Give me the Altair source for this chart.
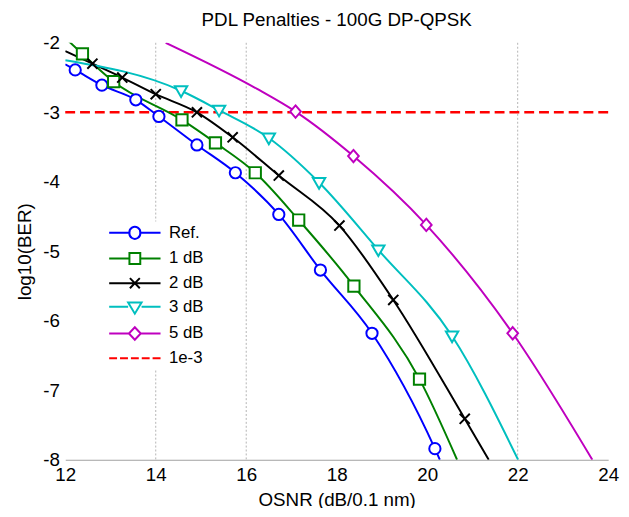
import altair as alt
import pandas as pd

# ---------------- data ----------------
SERIES = ["Ref.", "1 dB", "2 dB", "3 dB", "5 dB"]
COLORS = ["#0000ff", "#008000", "#000000", "#00bfbf", "#bf00bf"]
THRESH_NAME = "1e-3"
THRESH_COLOR = "#ff0000"
THRESHOLD = [-3]

X_TICKS = [12, 14, 16, 18, 20, 22, 24]
Y_TICKS = [-2, -3, -4, -5, -6, -7, -8]
GRID_X = [14, 16, 22]

# curve points (OSNR, log10 BER)
REF_LX = [12.0, 12.22, 12.81, 13.56, 14.07, 14.91, 15.76, 16.72, 17.64, 18.78, 20.17, 20.28]
REF_LY = [-2.31, -2.39, -2.61, -2.82, -3.06, -3.47, -3.87, -4.47, -5.27, -6.18, -7.84, -8.0]
DB1_LX = [12.0, 12.38, 13.07, 14.58, 15.32, 16.20, 17.16, 18.38, 19.83, 20.66]
DB1_LY = [-1.93, -2.16, -2.56, -3.11, -3.44, -3.87, -4.55, -5.50, -6.84, -8.0]
DB2_LX = [12.0, 12.60, 13.26, 14.00, 14.91, 15.70, 16.72, 18.06, 19.25, 20.83, 21.36]
DB2_LY = [-2.12, -2.30, -2.50, -2.74, -3.00, -3.36, -3.91, -4.63, -5.70, -7.41, -8.0]
DB3_LX = [12.0, 14.56, 15.40, 16.50, 17.61, 18.92, 20.55, 22.01]
DB3_LY = [-2.25, -2.69, -2.97, -3.37, -4.01, -4.98, -6.22, -8.0]
DB5_LX = [14.22, 16.23, 17.09, 18.37, 19.98, 21.89, 23.65]
DB5_LY = [-2.0, -2.66, -2.99, -3.63, -4.62, -6.18, -8.0]

# marker points
REF_MX = [12.22, 12.81, 13.56, 14.07, 14.91, 15.76, 16.72, 17.64, 18.78, 20.17]
REF_MY = [-2.39, -2.61, -2.82, -3.06, -3.47, -3.87, -4.47, -5.27, -6.18, -7.84]
DB1_MX = [12.38, 13.07, 14.58, 15.32, 16.20, 17.16, 18.38, 19.83]
DB1_MY = [-2.16, -2.56, -3.11, -3.44, -3.87, -4.55, -5.50, -6.84]
DB2_MX = [12.60, 13.26, 14.00, 14.91, 15.70, 16.72, 18.06, 19.25, 20.83]
DB2_MY = [-2.30, -2.50, -2.74, -3.00, -3.36, -3.91, -4.63, -5.70, -7.41]
DB3_MX = [14.56, 15.40, 16.50, 17.61, 18.92, 20.55]
DB3_MY = [-2.69, -2.97, -3.37, -4.01, -4.98, -6.22]
DB5_MX = [17.09, 18.37, 19.98, 21.89]
DB5_MY = [-2.99, -3.63, -4.62, -6.18]

# ---------------- tables ----------------
line_sets = [(REF_LX, REF_LY), (DB1_LX, DB1_LY), (DB2_LX, DB2_LY), (DB3_LX, DB3_LY), (DB5_LX, DB5_LY)]
mark_sets = [(REF_MX, REF_MY), (DB1_MX, DB1_MY), (DB2_MX, DB2_MY), (DB3_MX, DB3_MY), (DB5_MX, DB5_MY)]

line_rows, mark_rows = [], []
for name, (xs, ys) in zip(SERIES, line_sets):
    for i, (x, y) in enumerate(zip(xs, ys)):
        line_rows.append({"series": name, "x": x, "y": y, "i": i})
for name, (xs, ys) in zip(SERIES, mark_sets):
    for x, y in zip(xs, ys):
        mark_rows.append({"series": name, "x": x, "y": y})
lines_df = pd.DataFrame(line_rows)
marks_df = pd.DataFrame(mark_rows)
grid_df = pd.DataFrame({"x": GRID_X})
thr_df = pd.DataFrame({"y": THRESHOLD})
leg_names = SERIES + [THRESH_NAME]
leg_df = pd.DataFrame({"series": leg_names})

FONT = "Liberation Sans"

# marker shapes for the plot
MARKER_SHAPES = [
    "circle",
    "square",
    "M-0.9,-0.9L0.9,0.9M-0.9,0.9L0.9,-0.9",
    "M-1.1,-0.8H1.1L0,1.1Z",
    "M0,-1.1L0.95,0L0,1.1L-0.95,0Z",
]
# legend symbols: line segment plus marker (units of 6 px)
LEG_SHAPES = [
    "M-1,0H2.42M4.25,0H7.67M2.42,0A0.92,0.92,0,1,1,4.25,0A0.92,0.92,0,1,1,2.42,0Z",
    "M-1,0H2.42M4.25,0H7.67M2.42,-0.92H4.25V0.92H2.42Z",
    "M-1,0H7.67M2.5,-0.85L4.17,0.85M2.5,0.85L4.17,-0.85",
    "M-1,0H2.2M4.47,0H7.67M2.2,-0.75H4.47L3.33,1.15Z",
    "M-1,0H2.33M4.33,0H7.67M3.33,-1.05L4.33,0L3.33,1.05L2.33,0Z",
    "M-1,0H0.33M0.83,0H2.17M2.67,0H4M4.5,0H5.83M6.33,0H7.67",
]

x_scale = alt.Scale(domain=[12, 24], nice=False, zero=False)
y_scale = alt.Scale(domain=[-8, -2], nice=False, zero=False)

x_enc = alt.X("x:Q", scale=x_scale, axis=alt.Axis(
    values=X_TICKS, title="OSNR (dB/0.1 nm)", grid=False, ticks=False,
    domainColor="#a0a0a0", domainWidth=1, labelFontSize=19, labelFont=FONT,
    labelColor="#000000", labelPadding=6, titleFont=FONT, titleFontSize=19,
    titleFontWeight="normal", titleColor="#000000", titlePadding=6,
    labelFlush=False))
y_enc = alt.Y("y:Q", scale=y_scale, axis=alt.Axis(
    values=Y_TICKS, title="log10(BER)", grid=False, ticks=False, domain=False,
    labelFontSize=19, labelFont=FONT, labelColor="#000000", labelPadding=6,
    labelExpr="toString(datum.value)", titleFont=FONT, titleFontSize=19,
    titleFontWeight="normal", titleColor="#000000", titlePadding=8,
    labelFlush=False))

grid = alt.Chart(grid_df).mark_rule(color="#b4b4b4", strokeDash=[2, 2], strokeWidth=1).encode(
    x=alt.X("x:Q", scale=x_scale))

thr = alt.Chart(thr_df).mark_rule(color=THRESH_COLOR, strokeDash=[10, 5], strokeWidth=2.5).encode(
    y=alt.Y("y:Q", scale=y_scale))

lines = alt.Chart(lines_df).mark_line(strokeWidth=2, interpolate="monotone", clip=True).encode(
    x=x_enc, y=y_enc,
    stroke=alt.Stroke("series:N", scale=alt.Scale(domain=SERIES, range=COLORS), legend=None),
    order=alt.Order("i:Q"))

markers = alt.Chart(marks_df).mark_point(size=130, strokeWidth=2, fill="white", fillOpacity=1, opacity=1).encode(
    x=alt.X("x:Q", scale=x_scale), y=alt.Y("y:Q", scale=y_scale),
    stroke=alt.Stroke("series:N", scale=alt.Scale(domain=SERIES, range=COLORS), legend=None),
    shape=alt.Shape("series:N", scale=alt.Scale(domain=SERIES, range=MARKER_SHAPES), legend=None))

LEG = alt.Legend(orient="none", legendX=39, legendY=181, title=None, fillColor="white",
                 padding=3, symbolSize=144, symbolStrokeWidth=2, symbolOpacity=1,
                 labelFont=FONT, labelFontSize=17, labelColor="#000000", labelOffset=46,
                 rowPadding=5, labelLimit=300)

legend_layer = alt.Chart(leg_df).mark_point(opacity=0, strokeWidth=2).encode(
    color=alt.Color("series:N", scale=alt.Scale(domain=leg_names, range=COLORS + [THRESH_COLOR]), legend=LEG),
    shape=alt.Shape("series:N", scale=alt.Scale(domain=leg_names, range=LEG_SHAPES), legend=LEG))

chart = alt.layer(grid, thr, lines, markers, legend_layer).resolve_scale(
    color="independent", shape="independent", stroke="independent"
).properties(
    width=550, height=422.4,
    autosize=alt.AutoSizeParams(type="none"),
    padding={"left": 58, "top": 32, "right": 13, "bottom": 46},
    title=alt.TitleParams("PDL Penalties - 100G DP-QPSK", font=FONT, fontSize=19,
                          fontWeight="normal", color="#000000", offset=4, anchor="middle"),
).configure_view(stroke=None)

chart.save("out.html", embed_options={"renderer": "svg", "actions": False})
